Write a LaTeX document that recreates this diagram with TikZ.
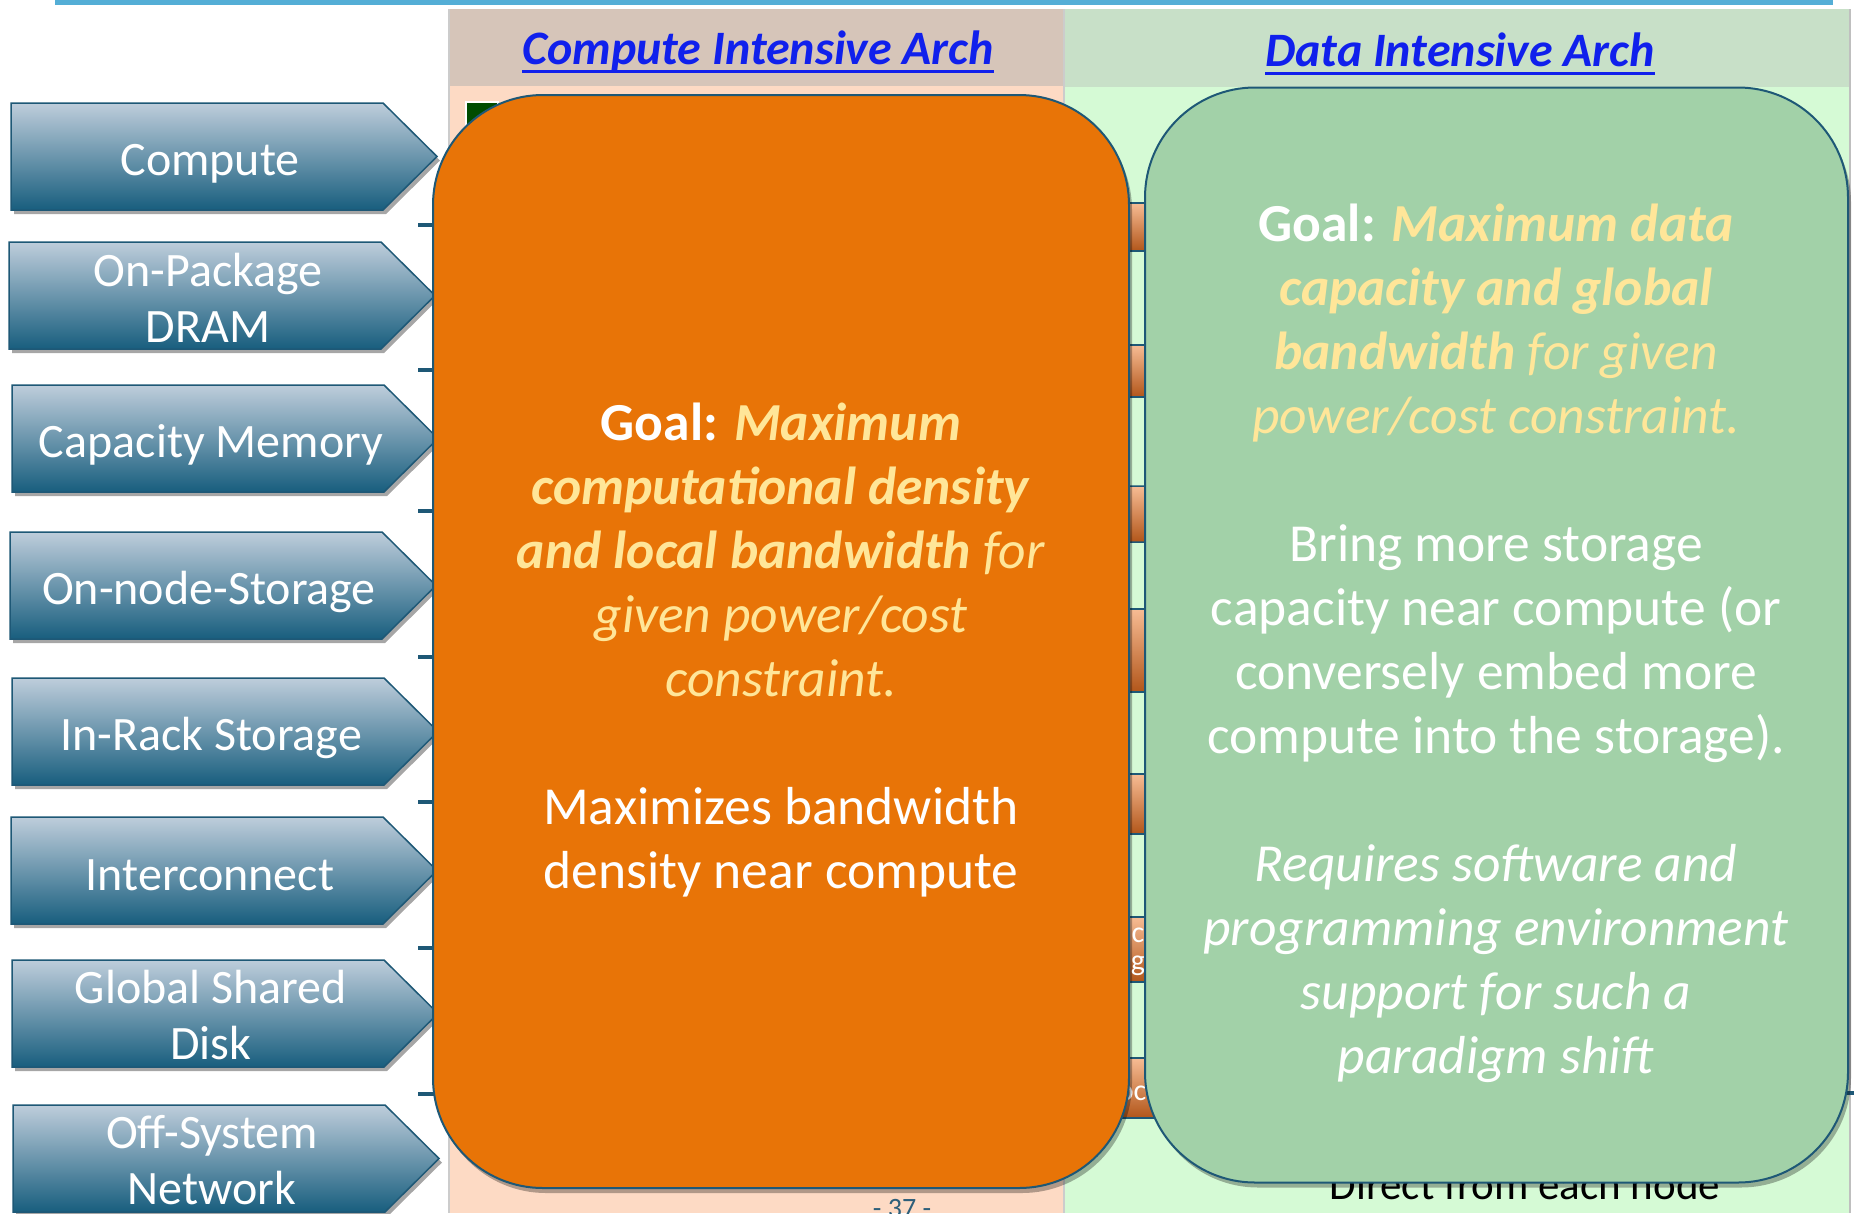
\documentclass[tikz,border=0pt]{standalone}
\usepackage{fontspec}
\setmainfont{Carlito}
\usetikzlibrary{shadows}
\definecolor{topblue}{RGB}{84,174,214}
\definecolor{peach}{RGB}{253,218,196}
\definecolor{tanhdr}{RGB}{214,197,185}
\definecolor{lgreen}{RGB}{213,250,213}
\definecolor{ghdr}{RGB}{200,224,200}
\definecolor{hdrblue}{RGB}{16,32,236}
\definecolor{arrtop}{RGB}{190,205,219}
\definecolor{arrbot}{RGB}{24,94,126}
\definecolor{edgeblue}{RGB}{30,88,118}
\definecolor{boxorange}{RGB}{232,116,7}
\definecolor{boxgreen}{RGB}{162,209,168}
\definecolor{yel}{RGB}{255,230,153}
\definecolor{bartop}{RGB}{247,188,148}
\definecolor{barbot}{RGB}{178,86,26}
\definecolor{pagenum}{RGB}{46,95,122}
\tikzset{
  arrowfill/.style={top color=arrtop, bottom color=arrbot, draw=edgeblue, line width=1.5,
    drop shadow={shadow xshift=3pt, shadow yshift=-4pt, opacity=0.35, fill=black}},
  arrowtext/.style={text=white, align=center, font=\fontsize{48}{56}\selectfont},
  tickmark/.style={draw=edgeblue, line width=4},
  hdr/.style={text=hdrblue, inner sep=0pt, font=\fontsize{48}{56}\selectfont\bfseries\itshape},
  hdrline/.style={draw=hdrblue, line width=3},
  bigbox/.style={draw=edgeblue, line width=2, rounded corners=110pt,
    drop shadow={shadow xshift=3pt, shadow yshift=-5pt, opacity=0.3, fill=black}},
  boxtext/.style={text=white, align=center, font=\fontsize{53.5}{64}\selectfont},
  hiddenbar/.style={top color=bartop, bottom color=barbot, draw=edgeblue, line width=1.5},
}
% #1 name, #2 left x, #3 top y, #4 text, #5 vertical text offset
\newcommand\navarrow[5]{%
  \path[arrowfill] (#2,#3) -- ++(372,0) -- ++(54,53.5) -- ++(-54,53.5) -- ++(-372,0) -- cycle;
  \node[arrowtext] (#1) at (#2+199,#3+53.5+#5) {#4};}
\begin{document}
\begin{tikzpicture}[x=1pt,y=-1pt]
\useasboundingbox (0,0) rectangle (1854,1213);
\fill[white] (0,0) rectangle (1854,1213);
% top line
\fill[topblue] (55,0) rectangle (1833,4.5);
% columns
\fill[peach] (449,9) rectangle (1064,1213);
\fill[lgreen] (1064,9) rectangle (1850,1213);
\fill[tanhdr] (449,9) rectangle (1064,86);
\fill[ghdr] (1064,9) rectangle (1850,87);
\draw[black!20, line width=1.5] (449,9) -- (449,1213);
\draw[black!20, line width=1.5] (1064,9) -- (1064,1213);
\draw[black!25, line width=1.5] (1850,9) -- (1850,1213);
\node[hdr, anchor=base] (hdrcompute) at (758,64) {Compute Intensive Arch};
\node[hdr, anchor=base] (hdrdata) at (1460,66) {Data Intensive Arch};
\draw[hdrline] ([yshift=-7pt]hdrcompute.base west) -- ([yshift=-7pt]hdrcompute.base east);
\draw[hdrline] ([yshift=-7pt]hdrdata.base west) -- ([yshift=-7pt]hdrdata.base east);
% fragments behind the boxes
\filldraw[fill=black!70!green, draw=white, line width=1.5] (466,102) rectangle (498,136);
\path[hiddenbar] (1110,203) rectangle (1165,251);
\path[hiddenbar] (1110,345) rectangle (1165,397);
\path[hiddenbar, rounded corners=12pt] (1110,486) rectangle (1165,542);
\path[hiddenbar] (1110,609) rectangle (1165,692);
\path[hiddenbar] (1110,774) rectangle (1165,834);
\path[hiddenbar] (1110,917) rectangle (1165,982);
\path[hiddenbar] (1110,1058) rectangle (1165,1118);
\node[text=white, font=\fontsize{30}{36}\selectfont] (fragc) at (1138,935) {c};
\node[text=white, font=\fontsize{30}{36}\selectfont] (fragg) at (1138,966) {g};
\node[text=white, font=\fontsize{30}{36}\selectfont] (fragoc) at (1132,1093) {oc};
\node[anchor=base, text=black, font=\fontsize{43}{50}\selectfont] (direct) at (1525,1199) {Direct from each node};
\node[anchor=base, text=pagenum, font=\fontsize{28}{32}\selectfont] (pnum) at (902,1217) {- 37 -};
% ticks
\foreach \yy in {225,370,511,657,802,948,1094} {\draw[tickmark] (418,\yy) -- (434,\yy);}
\draw[tickmark] (1846,1093) -- (1854,1093);
% arrows
\navarrow{compute}{11}{103}{Compute}{7}
\navarrow{dram}{9}{242}{On-Package\\DRAM}{2}
\navarrow{capmem}{12}{385}{Capacity Memory}{6}
\navarrow{onnode}{10}{532}{On-node-Storage}{6}
\navarrow{inrack}{12}{678}{In-Rack Storage}{6}
\navarrow{interconnect}{11}{817}{Interconnect}{5}
\navarrow{globaldisk}{12}{960}{Global Shared\\Disk}{1}
\navarrow{offsystem}{13}{1105}{Off-System\\Network}{2}
% big boxes
\node[bigbox, fill=boxorange, minimum width=696, minimum height=1093] (orangebox) at (781,641.5) {};
\node[bigbox, fill=boxgreen, minimum width=703, minimum height=1095] (greenbox) at (1496.5,635) {};
\node[boxtext] (orangetext) at (781,650) {%
\textbf{Goal: }\textcolor{yel}{\textbf{\textit{Maximum}}}\\
\textcolor{yel}{\textbf{\textit{computational density}}}\\
\textcolor{yel}{\textbf{\textit{and local bandwidth}} \textit{for}}\\
\textcolor{yel}{\textit{given power/cost}}\\
\textcolor{yel}{\textit{constraint.}}\\[64pt]
Maximizes bandwidth\\
density near compute};
\node[boxtext] (greentext) at (1496,643) {%
\textbf{Goal: }\textcolor{yel}{\textbf{\textit{Maximum data}}}\\
\textcolor{yel}{\textbf{\textit{capacity and global}}}\\
\textcolor{yel}{\textbf{\textit{bandwidth}} \textit{for given}}\\
\textcolor{yel}{\textit{power/cost constraint.}}\\[64pt]
Bring more storage\\
capacity near compute (or\\
conversely embed more\\
compute into the storage).\\[64pt]
\textit{Requires software and}\\
\textit{programming environment}\\
\textit{support for such a}\\
\textit{paradigm shift}};
\end{tikzpicture}
\end{document}
